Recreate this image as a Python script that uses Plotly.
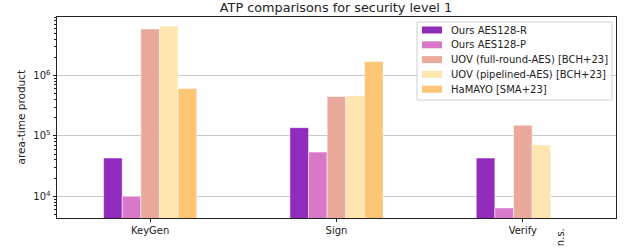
import plotly.graph_objects as go

categories = ["KeyGen", "Sign", "Verify"]
series_names = [
    "Ours AES128-R",
    "Ours AES128-P",
    "UOV (full-round-AES) [BCH+23]",
    "UOV (pipelined-AES) [BCH+23]",
    "HaMAYO [SMA+23]",
]
ours_r = [4.3e4, 1.37e5, 4.3e4]
ours_p = [1.0e4, 5.4e4, 6.4e3]
uov_full = [5.9e6, 4.5e5, 1.5e5]
uov_pipe = [6.6e6, 4.6e5, 7.1e4]
hamayo = [6.1e5, 1.7e6, None]
colors = ["#912bbb", "#d977c9", "#e9a99b", "#ffe6b0", "#fec574"]
ytick_vals = [1e4, 1e5, 1e6]
ytick_text = ["10<sup>4</sup>", "10<sup>5</sup>", "10<sup>6</sup>"]
minor_vals = [m * 10 ** e for e in range(3, 7) for m in range(2, 10)]

W, H = 628, 248
ML, MR, MT, MB = 57, 12, 17, 30
PW, PH = W - ML - MR, H - MT - MB


def px_x(px):
    return (px - ML) / PW


def px_y(py):
    return (H - MB - py) / PH


fig = go.Figure()
for name, vals, c in zip(series_names, [ours_r, ours_p, uov_full, uov_pipe, hamayo], colors):
    fig.add_trace(go.Bar(name=name, x=categories, y=vals,
                         marker=dict(color=c, line=dict(color="white", width=0.5))))

fig.update_layout(
    width=W, height=H,
    margin=dict(l=ML, r=MR, t=MT, b=MB),
    barmode="group", bargap=0.5, bargroupgap=0,
    plot_bgcolor="white", paper_bgcolor="white",
    font=dict(family="DejaVu Sans", size=10, color="#222"),
    title=dict(text="ATP comparisons for security level 1", x=0.535, xanchor="center",
               y=1 - 7.5 / H, yanchor="middle", font=dict(size=12.8, color="#222")),
    showlegend=False,
)
fig.update_xaxes(range=[-0.5, 2.5], showline=True, linecolor="#222", linewidth=1, mirror=True,
                 ticks="outside", ticklen=3, tickcolor="#222", showgrid=False, tickfont=dict(size=10))
fig.update_yaxes(type="log", range=[3.641, 6.969], showline=True, linecolor="#222", linewidth=1, mirror=True,
                 tickmode="array", tickvals=ytick_vals, ticktext=ytick_text, ticks="outside", ticklen=3.5,
                 tickcolor="#222", showgrid=True, gridcolor="#c8c8c8", gridwidth=1,
                 minor=dict(tickmode="array", tickvals=minor_vals, ticks="outside", ticklen=2,
                            tickcolor="#222", showgrid=False),
                 tickfont=dict(size=10))
# y-axis title
fig.add_annotation(x=px_x(20), y=0.5, xref="paper", yref="paper", xanchor="center", yanchor="middle",
                   text="area-time product", textangle=-90, showarrow=False, font=dict(size=10.5, color="#222"))
fig.add_annotation(x=2.2, xref="x", y=-0.04, yref="paper", yanchor="top", text="n.s.", textangle=-90,
                   showarrow=False, font=dict(size=10, color="#222"))

# legend box (drawn manually to match the compact matplotlib legend)
fig.add_shape(type="rect", xref="paper", yref="paper", x0=px_x(417), x1=px_x(612), y0=px_y(100), y1=px_y(22),
              fillcolor="rgba(255,255,255,0.85)", line=dict(color="#d0d0d0", width=1), layer="above")
for i, (name, c) in enumerate(zip(series_names, colors)):
    cy = 30 + 14.8 * i
    fig.add_shape(type="rect", xref="paper", yref="paper", x0=px_x(422), x1=px_x(442),
                  y0=px_y(cy + 3.5), y1=px_y(cy - 3.5), fillcolor=c, line=dict(width=0), layer="above")
    fig.add_annotation(x=px_x(449), y=px_y(cy), xref="paper", yref="paper", xanchor="left", yanchor="middle",
                       text=name, showarrow=False, font=dict(size=10, color="#222"))

fig.write_html("out.html", config={"displayModeBar": False},
               post_script="document.body.style.margin='0';")
